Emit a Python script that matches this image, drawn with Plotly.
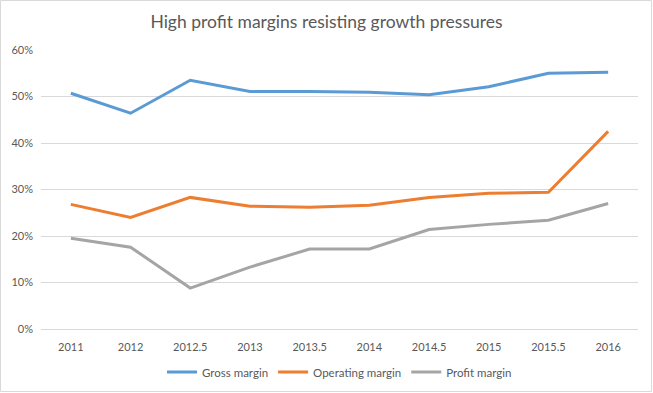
import plotly.graph_objects as go

categories = ["2011", "2012", "2012.5", "2013", "2013.5", "2014", "2014.5", "2015", "2015.5", "2016"]
gross_margin = [0.507, 0.464, 0.535, 0.511, 0.511, 0.509, 0.504, 0.521, 0.550, 0.552]
operating_margin = [0.268, 0.240, 0.283, 0.264, 0.262, 0.266, 0.283, 0.292, 0.294, 0.425]
profit_margin = [0.195, 0.176, 0.088, 0.133, 0.172, 0.172, 0.214, 0.225, 0.234, 0.270]
y_ticks = [0, 0.1, 0.2, 0.3, 0.4, 0.5, 0.6]

W, H = 653, 393
ML, MR, MT, MB = 41, 15, 50, 64
pw = W - ML - MR
ph = H - MT - MB

font_fam = "Lato, 'Open Sans', sans-serif"
txt = "#595959"

fig = go.Figure()
for name, vals, col in [
    ("Gross margin", gross_margin, "#5B9BD5"),
    ("Operating margin", operating_margin, "#ED7D31"),
    ("Profit margin", profit_margin, "#A5A5A5"),
]:
    fig.add_trace(go.Scatter(x=categories, y=vals, mode="lines", name=name,
                             line=dict(color=col, width=3)))

fig.update_layout(
    width=W, height=H,
    margin=dict(l=ML, r=MR, t=MT, b=MB, autoexpand=False),
    paper_bgcolor="white", plot_bgcolor="white",
    font=dict(family=font_fam, size=11, color=txt),
    title=dict(text="High profit margins resisting growth pressures",
               x=0.5, xanchor="center", y=1 - 22 / H, yanchor="middle",
               font=dict(size=17.5, color=txt, family=font_fam)),
    showlegend=True,
    legend=dict(orientation="h", x=0.5, xanchor="center",
                yref="container", y=1 - 372 / H, yanchor="middle",
                font=dict(size=11.5, color=txt), itemwidth=30, bgcolor="rgba(0,0,0,0)"),
    xaxis=dict(type="category", range=[-0.5, len(categories) - 0.5], showgrid=False,
               showline=True, linecolor="#d9d9d9", ticklabelstandoff=8,
               ticks="", tickfont=dict(size=11, color=txt), zeroline=False),
    yaxis=dict(range=[0, 0.6], tickvals=y_ticks, tickformat=".0%", showgrid=True,
               gridcolor="#d9d9d9", gridwidth=1, zeroline=False, showline=False,
               ticks="", ticklabelstandoff=7, tickfont=dict(size=11, color=txt)),
    shapes=[dict(type="rect", xref="paper", yref="paper",
                 x0=(0.5 - ML) / pw, x1=(W - 1.5 - ML) / pw,
                 y0=(1.5 - MB) / ph, y1=(H - MB - 0.5) / ph,
                 line=dict(color="#d9d9d9", width=1), fillcolor="rgba(0,0,0,0)",
                 layer="below")],
)

fig.write_html("out.html", config={"displayModeBar": False})

with open("out.html", "r", encoding="utf-8") as f:
    html = f.read()
html = html.replace("<body>", '<body style="margin:0;padding:0;">', 1)
with open("out.html", "w", encoding="utf-8") as f:
    f.write(html)
